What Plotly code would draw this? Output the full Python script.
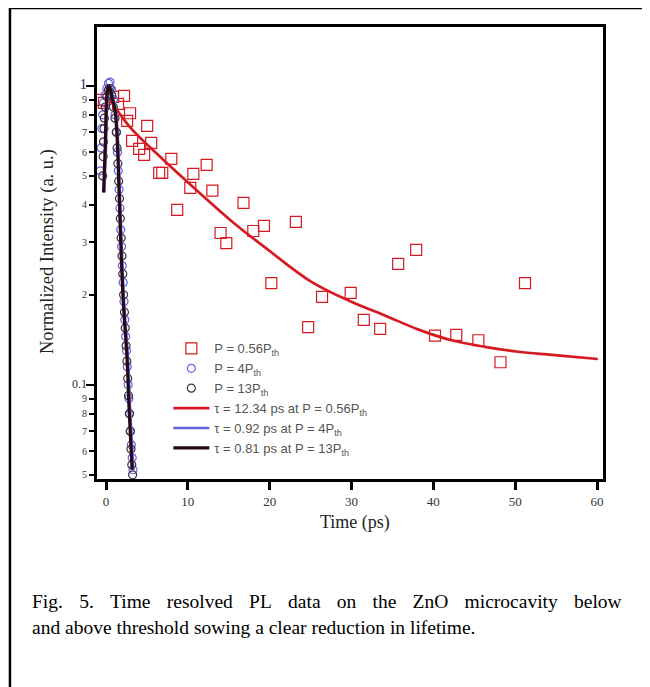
import plotly.graph_objects as go

# ---------------- data ----------------
red_t = [-0.6, -0.25, 0.86, 1.47, 2.2, 2.58, 2.94, 3.19, 4.05, 4.66, 5.03, 5.52, 6.5, 6.87,
         7.98, 8.7, 10.3, 10.67, 12.3, 13.0, 14.0, 14.7, 16.8, 18.0, 19.3, 20.2, 23.2, 24.7,
         26.4, 29.9, 31.5, 33.5, 35.7, 37.9, 40.2, 42.8, 45.5, 48.2, 51.2]
red_v = [0.898, 0.877, 0.919, 0.87, 0.926, 0.764, 0.81, 0.655, 0.616, 0.588, 0.735, 0.645, 0.512, 0.512,
         0.570, 0.385, 0.456, 0.508, 0.544, 0.446, 0.322, 0.298, 0.406, 0.327, 0.340, 0.219, 0.351, 0.156,
         0.197, 0.203, 0.165, 0.154, 0.254, 0.283, 0.146, 0.147, 0.141, 0.119, 0.219]

blue_t = [-0.7, -0.6, -0.5, -0.4, -0.3, -0.1, 0.1, 0.3, 0.5, 0.7, 0.9, 1.1, 1.3, 1.4, 1.5, 1.6, 1.7,
          1.8, 1.9, 2.0, 2.1, 2.2, 2.3, 2.4, 2.5, 2.6, 2.7, 2.8, 2.9, 3.0, 3.1, 3.2, 3.3]
blue_v = [0.52, 0.62, 0.72, 0.80, 0.88, 0.93, 0.98, 1.02, 1.03, 0.97, 0.90, 0.80, 0.70, 0.60, 0.52, 0.45, 0.39,
          0.33, 0.29, 0.25, 0.22, 0.19, 0.165, 0.145, 0.13, 0.115, 0.10, 0.09, 0.08, 0.07, 0.063, 0.057, 0.052]

black_t = [-0.4, -0.35, -0.3, -0.25, -0.2, -0.1, 0.1, 0.3, 0.5, 0.7, 0.9, 1.1, 1.25, 1.35, 1.45, 1.55, 1.65,
           1.75, 1.85, 1.95, 2.05, 2.15, 2.25, 2.35, 2.45, 2.55, 2.65, 2.75, 2.85, 2.95, 3.05, 3.15, 3.25]
black_v = [0.50, 0.58, 0.65, 0.72, 0.78, 0.85, 0.92, 0.97, 0.98, 0.93, 0.85, 0.78, 0.70, 0.62, 0.55, 0.48, 0.42,
           0.36, 0.31, 0.27, 0.235, 0.20, 0.175, 0.155, 0.135, 0.12, 0.105, 0.092, 0.08, 0.07, 0.061, 0.054, 0.05]

fit_red_t = [0.5, 2.9, 7.0, 11.3, 15.5, 19.8, 25.0, 29.9, 34.0, 38.2, 42.2, 46.3, 50.4, 54.5, 60.1]
fit_red_v = [0.898, 0.729, 0.566, 0.442, 0.350, 0.283, 0.222, 0.190, 0.171, 0.153, 0.141, 0.134, 0.129, 0.126, 0.122]

fit_blue_t = [-0.2, 0.0, 0.2, 0.4, 0.6, 0.9, 1.2, 1.45, 1.7, 1.95, 2.2, 2.7, 2.95, 3.35]
fit_blue_v = [0.44, 0.62, 0.92, 1.0, 0.98, 0.9, 0.83, 0.675, 0.44, 0.28, 0.192, 0.121, 0.083, 0.052]

fit_black_t = [-0.3, -0.1, 0.1, 0.3, 0.5, 0.8, 1.1, 1.35, 1.6, 1.84, 2.1, 2.58, 2.82, 3.19]
fit_black_v = [0.44, 0.62, 0.92, 1.0, 0.98, 0.9, 0.83, 0.675, 0.44, 0.28, 0.192, 0.121, 0.083, 0.052]

x_ticks = [0, 10, 20, 30, 40, 50, 60]
y_ticks = [0.05, 0.06, 0.07, 0.08, 0.09, 0.1, 0.2, 0.3, 0.4, 0.5, 0.6, 0.7, 0.8, 0.9, 1]
y_ticktext = ["5", "6", "7", "8", "9",
              '<span style="font-size:12px">0.1</span>',
              "2", "3", "4", "5", "6", "7", "8", "9",
              '<span style="font-size:15px;fill:#223366">1</span>']
y_major = [0.1, 1]

caption_1 = "Fig. 5. Time resolved PL data on the ZnO microcavity below"
caption_2 = "and above threshold sowing a clear reduction in lifetime."

# first caption line is justified in the original (wider word gaps)
caption_1_justified = caption_1.replace(" ", "\u2002\u2004")

# ---------------- figure ----------------
RED = "rgb(215,25,35)"
BLUE = "rgb(100,100,225)"
DARK = "rgb(40,10,20)"

fig = go.Figure()
fig.add_trace(go.Scatter(x=red_t, y=red_v, mode="markers", name="P = 0.56P<sub>th</sub>",
                         marker=dict(symbol="square-open", size=11, color=RED, line=dict(width=1.2))))
fig.add_trace(go.Scatter(x=blue_t, y=blue_v, mode="markers", name="P = 4P<sub>th</sub>",
                         marker=dict(symbol="circle-open", size=8, color=BLUE, line=dict(width=1.2))))
fig.add_trace(go.Scatter(x=black_t, y=black_v, mode="markers", name="P = 13P<sub>th</sub>",
                         marker=dict(symbol="circle-open", size=8, color="rgb(60,50,70)", line=dict(width=1.2))))
fig.add_trace(go.Scatter(x=fit_red_t, y=fit_red_v, mode="lines", line_shape="spline",
                         name="τ = 12.34 ps at P = 0.56P<sub>th</sub>", line=dict(color=RED, width=2.7)))
fig.add_trace(go.Scatter(x=fit_blue_t, y=fit_blue_v, mode="lines", line_shape="spline",
                         name="τ = 0.92 ps at P = 4P<sub>th</sub>", line=dict(color=BLUE, width=2.5)))
fig.add_trace(go.Scatter(x=fit_black_t, y=fit_black_v, mode="lines", line_shape="spline",
                         name="τ = 0.81 ps at P = 13P<sub>th</sub>", line=dict(color=DARK, width=3.2)))
# empty trace to host the overlay axis carrying the long (major) ticks
fig.add_trace(go.Scatter(x=[], y=[], yaxis="y2", showlegend=False, hoverinfo="skip"))

serif = "Liberation Serif, Times New Roman, serif"

fig.update_layout(
    width=650, height=687,
    margin=dict(l=89, r=55, t=19, b=216),
    paper_bgcolor="white", plot_bgcolor="white",
    showlegend=True,
    legend=dict(x=0.141, y=0.322, xanchor="left", yanchor="top",
                bgcolor="rgba(0,0,0,0)", font=dict(family="Arial, Liberation Sans", size=13, color="#555"),
                tracegroupgap=0, itemwidth=36),
    xaxis=dict(range=[-1.1, 60.73], tickvals=x_ticks, ticks="outside", ticklen=8, tickwidth=3,
               tickcolor="black", showline=True, linewidth=3, linecolor="black", mirror=True,
               showgrid=False, zeroline=False,
               tickfont=dict(family=serif, size=13, color="#333")),
    yaxis=dict(type="log", range=[-1.315, 0.197], tickvals=y_ticks, ticktext=y_ticktext,
               ticks="outside", ticklen=5, tickwidth=2, tickcolor="black",
               showline=True, linewidth=3, linecolor="black", mirror=True, showgrid=False,
               zeroline=False, tickfont=dict(family=serif, size=10, color="#333")),
    yaxis2=dict(type="log", range=[-1.315, 0.197], overlaying="y", side="left", anchor="x",
                tickvals=y_major, ticks="outside", ticklen=10, tickwidth=2, tickcolor="black",
                showticklabels=False, showgrid=False, showline=False, zeroline=False),
    annotations=[
        dict(text="Normalized Intensity (a. u.)", xref="paper", yref="paper", x=-0.099, y=0.504,
             xanchor="center", yanchor="middle",
             textangle=-90, showarrow=False, font=dict(family=serif, size=18.5, color="#222")),
        dict(text="Time (ps)", xref="paper", yref="paper", x=0.51, y=-0.0973,
             xanchor="center", yanchor="middle", showarrow=False,
             font=dict(family=serif, size=18, color="#222")),
        dict(text=caption_1_justified, xref="paper", yref="paper", x=-0.1324, y=-0.272, xanchor="left",
             yanchor="middle", align="left", showarrow=False,
             font=dict(family="Liberation Serif", size=19.5, color="black")),
        dict(text=caption_2, xref="paper", yref="paper", x=-0.1324, y=-0.3296, xanchor="left",
             yanchor="middle", align="left", showarrow=False,
             font=dict(family="Liberation Serif", size=19.5, color="black")),
    ],
    shapes=[
        dict(type="path", xref="paper", yref="paper",
             path="M -0.172,-0.6 L -0.172,1.042 L 1.2,1.042",
             line=dict(color="black", width=2.5)),
    ],
)

fig.write_html("out.html")
